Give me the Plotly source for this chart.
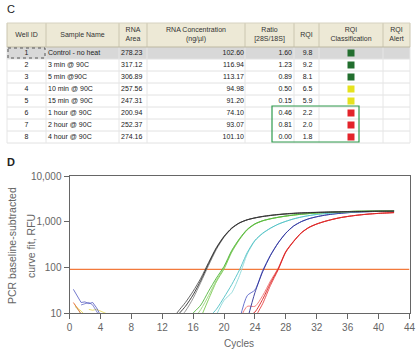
import plotly.graph_objects as go

W, H = 418, 355

# ---------------- Table (panel C) data ----------------
header_labels = ["Well ID", "Sample Name", "RNA<br>Area", "RNA Concentration<br>(ng/µl)",
                 "Ratio<br>[28S/18S]", "RQI", "RQI<br>Classification", "RQI<br>Alert"]
well_ids = ["1", "2", "3", "4", "5", "6", "7", "8"]
sample_names = ["Control - no heat", "3 min @ 90C", "5 min @90C", "10 min @ 90C",
                "15 min @ 90C", "1 hour @ 90C", "2 hour @ 90C", "4 hour @ 90C"]
rna_area = ["278.23", "317.12", "306.89", "257.56", "247.31", "200.94", "252.37", "274.16"]
rna_conc = ["102.60", "116.94", "113.17", "94.98", "91.20", "74.10", "93.07", "101.10"]
ratio_28s_18s = ["1.60", "1.23", "0.89", "0.50", "0.15", "0.46", "0.81", "0.00"]
rqi = ["9.8", "9.2", "8.1", "6.5", "5.9", "2.2", "2.0", "1.8"]
rqi_class = ["green", "green", "green", "yellow", "yellow", "red", "red", "red"]

# ---------------- qPCR curves (panel D) data: RFU at integer cycles ----------------
black_a_start = 14
black_a = [9, 14, 25, 52, 120, 260, 470, 720, 940, 1100, 1210, 1300, 1370, 1430, 1480, 1520,
           1550, 1575, 1595, 1610, 1625, 1640, 1650, 1660, 1670, 1680, 1690, 1695, 1700]
black_b_start = 14
black_b = [7, 11, 21, 47, 110, 245, 455, 705, 930, 1095, 1215, 1310, 1385, 1445, 1495, 1535,
           1565, 1590, 1610, 1625, 1640, 1655, 1665, 1675, 1685, 1695, 1705, 1710, 1715]
black_c_start = 13
black_c = [6, 10.5, 17, 30, 58, 128, 270, 480, 730, 945, 1100, 1205, 1290, 1360, 1420, 1470,
           1510, 1545, 1570, 1590, 1605, 1620, 1635, 1645, 1655, 1665, 1675, 1685, 1690, 1695]
green_a_start = 16
green_a = [10, 15, 30, 58, 105, 235, 425, 680, 900, 1050, 1160, 1250, 1330, 1400, 1460, 1510,
           1550, 1590, 1620, 1650, 1670, 1690, 1700, 1710, 1720, 1730, 1740]
green_b_start = 16
green_b = [7, 12, 24, 52, 98, 225, 415, 670, 890, 1045, 1155, 1245, 1325, 1395, 1455, 1505,
           1548, 1585, 1615, 1645, 1665, 1685, 1698, 1708, 1718, 1728, 1738]
green_c_start = 17
green_c = [8, 20, 48, 92, 215, 405, 660, 880, 1040, 1150, 1240, 1320, 1390, 1450, 1500, 1545,
           1580, 1612, 1640, 1662, 1682, 1695, 1705, 1715, 1725, 1735]
cyan_a_start = 18
cyan_a = [8, 12, 22, 42, 88, 210, 390, 560, 720, 880, 1020, 1150, 1265, 1360, 1440, 1500,
          1550, 1590, 1620, 1645, 1665, 1680, 1695, 1705, 1715]
cyan_b_start = 19
cyan_b = [9, 19, 28, 66, 195, 380, 550, 715, 875, 1015, 1145, 1262, 1358, 1438, 1498, 1548,
          1588, 1618, 1643, 1663, 1678, 1693, 1703, 1713]
blue_a_start = 23
blue_a = [7, 28, 80, 180, 340, 560, 800, 1000, 1160, 1280, 1380, 1460, 1520, 1570, 1610, 1640,
          1660, 1680, 1690, 1700]
blue_b_start = 22
blue_b = [7, 24, 32, 85, 185, 345, 565, 805, 1005, 1165, 1285, 1385, 1465, 1525, 1575, 1615,
          1645, 1665, 1685, 1695, 1705]
red_a_start = 23
red_a = [8, 10.5, 20, 45, 92, 220, 370, 570, 750, 890, 1010, 1120, 1220, 1300, 1370, 1430,
         1480, 1520, 1550, 1580]
red_b_start = 24
red_b = [8, 16, 40, 88, 215, 365, 565, 745, 885, 1005, 1115, 1215, 1295, 1365, 1425, 1475,
         1515, 1545, 1575]
red_c_start = 22
red_c = [7, 14, 14, 24, 50, 96, 225, 375, 575, 755, 895, 1015, 1125, 1225, 1305, 1375, 1435,
         1485, 1525, 1555, 1585]

# early-cycle baseline noise
noise_blue1_x = [0.5, 1.0, 1.5, 2.0, 2.5, 3.0, 3.5, 4.0]
noise_blue1_y = [33, 24, 17, 17.5, 16, 17, 13, 9]
noise_blue2_x = [1.5, 2.0, 2.5, 3.0, 3.4, 3.8]
noise_blue2_y = [15, 16, 17, 15, 12, 9]
noise_yellow1_x = [0.6, 1.0, 1.5, 2.0]
noise_yellow1_y = [16, 13, 11, 9]
noise_yellow2_x = [2.5, 3.0, 3.5, 4.0, 4.5, 4.9]
noise_yellow2_y = [12, 11.5, 12, 11, 10.5, 9.5]
noise_red_x = [0.5, 0.8, 1.2, 1.6]
noise_red_y = [17, 14, 11, 9]
noise_lime_x = [0.7, 1.1, 1.5]
noise_lime_y = [14, 12, 9.5]

threshold_rfu = 90
x_ticks = list(range(0, 45, 4))
y_tickvals = [10, 100, 1000, 10000]
y_ticktext = ["10", "100", "1,000", "10,000"]

# ---------------- styling / geometry ----------------
FONT = "Liberation Sans"
col_widths = [39, 73, 28, 98, 49, 25, 64, 27]
tbl_x0, tbl_y0 = 7, 23
header_h, row_h = 24, 12
class_colors = {"green": "#226e2e", "yellow": "#e6e21e", "red": "#e3242b"}

edges = [tbl_x0]
for wdt in col_widths:
    edges.append(edges[-1] + wdt)
tbl_x1 = edges[-1]
n_rows = len(well_ids)
body_y0 = tbl_y0 + header_h
tbl_y1 = body_y0 + row_h * n_rows
row_centers = [body_y0 + row_h * i + row_h / 2 for i in range(n_rows)]

fig = go.Figure()
shapes = []

def rect(x0, y0, x1, y1, fill=None):
    shapes.append(dict(type="rect", xref="x2", yref="y2", x0=x0, y0=y0, x1=x1, y1=y1,
                       fillcolor=fill, line=dict(width=0), layer="below"))

def hline(x0, x1, y, color, lw=1):
    shapes.append(dict(type="line", xref="x2", yref="y2", x0=x0, x1=x1, y0=y, y1=y,
                       line=dict(color=color, width=lw), layer="below"))

def vline(x, y0, y1, color, lw=1):
    shapes.append(dict(type="line", xref="x2", yref="y2", x0=x, x1=x, y0=y0, y1=y1,
                       line=dict(color=color, width=lw), layer="below"))

# header & selected row backgrounds
rect(tbl_x0, tbl_y0, tbl_x1, body_y0, fill="#ede9d6")
rect(tbl_x0, body_y0, tbl_x1, body_y0 + row_h, fill="#d8d8d8")
for i in range(1, n_rows + 1):
    hline(tbl_x0, tbl_x1, body_y0 + row_h * i, "#e2e2e2")
for e in edges:
    vline(e, tbl_y0, body_y0, "#cbc6b0")
    vline(e, body_y0, tbl_y1, "#e6e6e6")
hline(tbl_x0, tbl_x1, tbl_y0, "#d6d2c0")
hline(tbl_x0, tbl_x1, body_y0, "#bdb8a2")
# focus box on first Well ID cell
shapes.append(dict(type="rect", xref="x2", yref="y2", x0=tbl_x0 + 1, x1=edges[1] - 1,
                   y0=body_y0 + 1, y1=body_y0 + row_h - 1,
                   line=dict(color="#555555", width=1, dash="dot")))
# highlight box around rows 6-8
shapes.append(dict(type="rect", xref="x2", yref="y2", x0=edges[4] + 27, x1=edges[7] - 24,
                   y0=body_y0 + row_h * 5 - 1, y1=tbl_y1 - 1,
                   line=dict(color="#2e9a4c", width=1.2)))

cell_font = dict(family=FONT, size=7, color="#222222")

def text_col(xpos, vals, pos):
    fig.add_trace(go.Scatter(x=[xpos] * len(vals), y=row_centers, text=vals, mode="text",
                             textposition=pos, textfont=cell_font, xaxis="x2", yaxis="y2",
                             hoverinfo="skip"))

# header labels
fig.add_trace(go.Scatter(x=[(edges[i] + edges[i + 1]) / 2 for i in range(len(col_widths))],
                         y=[tbl_y0 + header_h / 2] * len(header_labels), text=header_labels,
                         mode="text", textposition="middle center",
                         textfont=dict(family=FONT, size=7, color="#333333"),
                         xaxis="x2", yaxis="y2", hoverinfo="skip"))
text_col((edges[0] + edges[1]) / 2, well_ids, "middle center")
text_col(edges[1] + 2, sample_names, "middle right")
text_col(edges[2] + 2, rna_area, "middle right")
text_col(edges[4] - 1, rna_conc, "middle left")
text_col(edges[5] - 2, ratio_28s_18s, "middle left")
text_col((edges[5] + edges[6]) / 2 + 1, rqi, "middle center")
fig.add_trace(go.Scatter(x=[(edges[6] + edges[7]) / 2] * n_rows, y=row_centers, mode="markers",
                         marker=dict(symbol="square", size=7,
                                     color=[class_colors[c] for c in rqi_class],
                                     line=dict(width=0)),
                         xaxis="x2", yaxis="y2", hoverinfo="skip"))

# ---------------- chart ----------------
fig.add_trace(go.Scatter(x=[0, 44], y=[threshold_rfu, threshold_rfu], mode="lines",
                         line=dict(color="#f27a3c", width=1.1), hoverinfo="skip"))

def curve(start, vals, color, width=0.9):
    fig.add_trace(go.Scatter(x=list(range(start, start + len(vals))), y=vals, mode="lines",
                             line=dict(color=color, width=width, shape="spline", smoothing=0.7),
                             hoverinfo="skip"))

def noise(xs, ys, color):
    fig.add_trace(go.Scatter(x=xs, y=ys, mode="lines", line=dict(color=color, width=0.8),
                             hoverinfo="skip"))

noise(noise_yellow1_x, noise_yellow1_y, "#e2d23c")
noise(noise_yellow2_x, noise_yellow2_y, "#e6d84a")
noise(noise_lime_x, noise_lime_y, "#a6d060")
noise(noise_red_x, noise_red_y, "#e8603c")
noise(noise_blue2_x, noise_blue2_y, "#6a70c8")
noise(noise_blue1_x, noise_blue1_y, "#5058c0")

curve(red_c_start, red_c, "#f07070")
curve(red_b_start, red_b, "#e84040")
curve(red_a_start, red_a, "#d82020")
curve(blue_b_start, blue_b, "#5a64c8")
curve(blue_a_start, blue_a, "#2a2f96")
curve(cyan_b_start, cyan_b, "#8ad8d8")
curve(cyan_a_start, cyan_a, "#4cc0c4")
curve(green_b_start, green_b, "#9ad47a")
curve(green_c_start, green_c, "#78c850")
curve(green_a_start, green_a, "#4fb53a")
curve(black_b_start, black_b, "#8a8a8a")
curve(black_c_start, black_c, "#555555")
curve(black_a_start, black_a, "#2a2a2a")

axis_font = dict(family=FONT, size=10, color="#666666")
fig.update_layout(
    width=W, height=H, margin=dict(l=0, r=0, t=0, b=0),
    paper_bgcolor="white", plot_bgcolor="rgba(0,0,0,0)", showlegend=False,
    font=dict(family=FONT), shapes=shapes,
    xaxis=dict(domain=[69.5 / W, 409.5 / W], range=[0, 44], tickvals=x_ticks,
               ticks="outside", ticklen=5, tickcolor="#666666", tickwidth=1,
               showline=True, linecolor="#666666", linewidth=1, mirror=True,
               showgrid=False, zeroline=False, tickfont=axis_font, automargin=False),
    yaxis=dict(domain=[1 - 313 / H, 1 - 176 / H], type="log", range=[1, 4],
               tickvals=y_tickvals, ticktext=y_ticktext,
               ticks="outside", ticklen=5, tickcolor="#666666", tickwidth=1,
               showline=True, linecolor="#666666", linewidth=1, mirror=True,
               showgrid=False, zeroline=False, tickfont=axis_font, automargin=False),
    xaxis2=dict(domain=[0, 1], range=[0, W], visible=False, fixedrange=True),
    yaxis2=dict(domain=[0, 1], range=[H, 0], visible=False, fixedrange=True, anchor="x2"),
)

# panel letters and axis titles
fig.add_annotation(x=5 / W, y=1 - 9 / H, xref="paper", yref="paper", text="C", showarrow=False,
                   xanchor="left", yanchor="middle", font=dict(family=FONT, size=11, color="#222222"))
fig.add_annotation(x=5 / W, y=1 - 162 / H, xref="paper", yref="paper", text="<b>D</b>",
                   showarrow=False, xanchor="left", yanchor="middle",
                   font=dict(family=FONT, size=11, color="#222222"))
fig.add_annotation(x=12 / W, y=1 - 246 / H, xref="paper", yref="paper",
                   text="PCR baseline-subtracted", textangle=-90, showarrow=False,
                   xanchor="center", yanchor="middle", font=dict(family=FONT, size=10.5, color="#666666"))
fig.add_annotation(x=31 / W, y=1 - 246 / H, xref="paper", yref="paper",
                   text="curve fit, RFU", textangle=-90, showarrow=False,
                   xanchor="center", yanchor="middle", font=dict(family=FONT, size=10.5, color="#666666"))
fig.add_annotation(x=239 / W, y=1 - 343 / H, xref="paper", yref="paper", text="Cycles",
                   showarrow=False, xanchor="center", yanchor="middle",
                   font=dict(family=FONT, size=10, color="#666666"))

fig.write_html("out.html", config={"displayModeBar": False},
               post_script="document.body.style.margin='0px';")
